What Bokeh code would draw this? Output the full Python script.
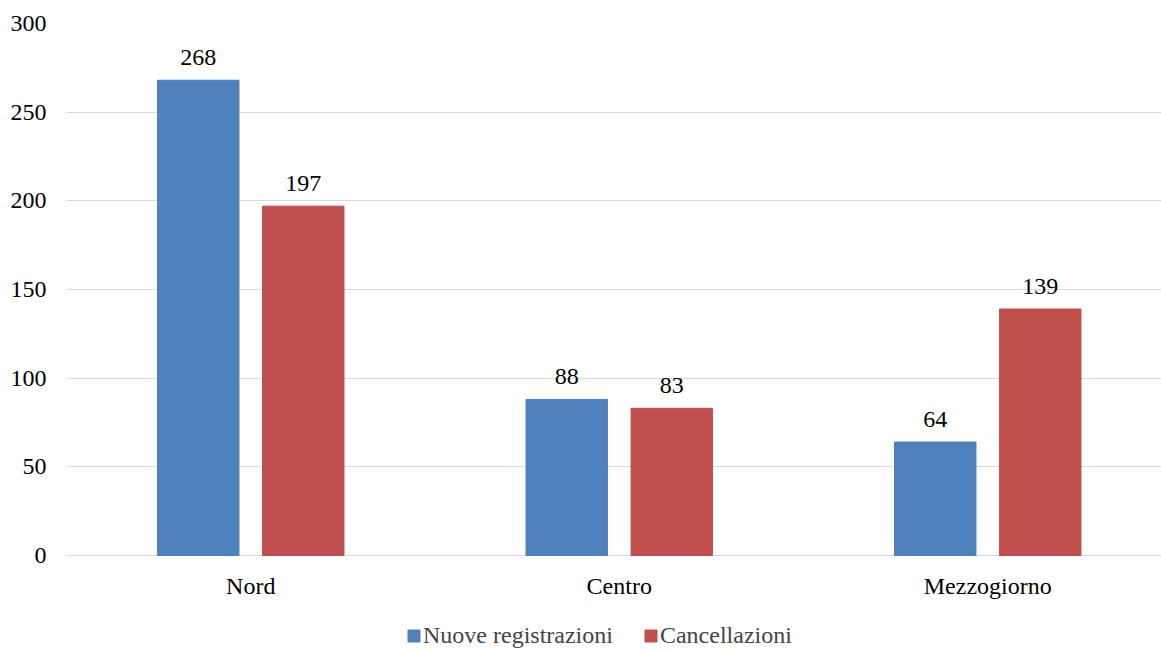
from bokeh.plotting import figure
from bokeh.models import ColumnDataSource, FixedTicker, Range1d, Legend, LegendItem, LabelSet
from bokeh.embed import file_html
from bokeh.resources import INLINE

categories = ["Nord", "Centro", "Mezzogiorno"]
nuove = [268, 88, 64]
cancellazioni = [197, 83, 139]
series_names = ["Nuove registrazioni", "Cancellazioni"]
colors = ["#4F81BD", "#C0504D"]
y_ticks = [0, 50, 100, 150, 200, 250, 300]

FONT = "Liberation Serif"
FS = "24px"
W, H = 1161, 650
LEFT, TOP = 66, 23
ZERO_PX = 555          # screen row of value 0
CAT_W = 368.5          # pixels per category

px_per_unit = (ZERO_PX - TOP) / 300.0
y_start = -(H - ZERO_PX) / px_per_unit

centers = [i + 0.5 for i in range(len(categories))]
offset = 0.1425
bw = 0.221

p = figure(width=W, height=H, output_backend="svg", toolbar_location=None,
           x_axis_location=None,
           x_range=Range1d(0, (W - LEFT) / CAT_W), y_range=Range1d(y_start, 300))
p.min_border_left = LEFT
p.min_border_right = 0
p.min_border_top = TOP
p.min_border_bottom = 0
p.outline_line_color = None
p.background_fill_color = "white"
p.border_fill_color = "white"

src1 = ColumnDataSource(dict(x=[c - offset for c in centers], top=nuove,
                             lab=[str(v) for v in nuove]))
src2 = ColumnDataSource(dict(x=[c + offset for c in centers], top=cancellazioni,
                             lab=[str(v) for v in cancellazioni]))
r1 = p.vbar(x="x", top="top", width=bw, source=src1, color=colors[0])
r2 = p.vbar(x="x", top="top", width=bw, source=src2, color=colors[1])

for s in (src1, src2):
    p.add_layout(LabelSet(x="x", y="top", text="lab", source=s, y_offset=15,
                          text_align="center", text_baseline="alphabetic",
                          text_font=FONT, text_font_size=FS, text_color="#000000"))

cat_src = ColumnDataSource(dict(x=centers, y=[0] * len(categories), lab=categories))
p.add_layout(LabelSet(x="x", y="y", text="lab", source=cat_src, y_offset=-38,
                      text_align="center", text_baseline="alphabetic",
                      text_font=FONT, text_font_size=FS, text_color="#000000"))

p.yaxis.ticker = FixedTicker(ticks=y_ticks)
p.yaxis.major_tick_line_color = None
p.yaxis.minor_tick_line_color = None
p.yaxis.axis_line_color = None
p.yaxis.major_label_standoff = 14
p.yaxis.major_label_text_font = FONT
p.yaxis.major_label_text_font_size = FS
p.yaxis.major_label_text_color = "#000000"

p.xgrid.grid_line_color = None
p.ygrid.grid_line_color = "#d9d9d9"
p.ygrid.grid_line_width = 1

legend = Legend(items=[LegendItem(label=series_names[0], renderers=[r1]),
                       LegendItem(label=series_names[1], renderers=[r2])],
                orientation="horizontal", location=(340, 1),
                label_text_font=FONT, label_text_font_size=FS,
                glyph_width=15, glyph_height=15, label_standoff=2, spacing=30,
                border_line_color=None, background_fill_alpha=0,
                padding=0, margin=0)
p.add_layout(legend, "center")

open("out.html", "w").write(file_html(p, INLINE))
